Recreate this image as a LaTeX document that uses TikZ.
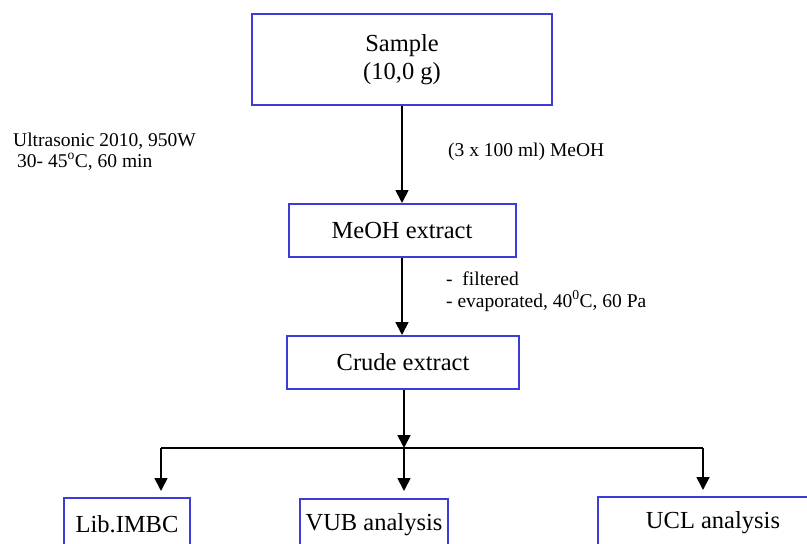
\documentclass[tikz,border=0pt]{standalone}
\usepackage{fontspec}
\setmainfont{Liberation Serif}
\usetikzlibrary{arrows.meta}
\definecolor{boxblue}{RGB}{60,60,215}
\tikzset{
  stepbox/.style={draw=boxblue, line width=2pt, inner sep=0pt, align=center,
    font=\fontsize{24.5}{28}\selectfont},
  arr/.style={line width=1.8pt, -{Triangle[length=13pt,width=13pt]}},
  plain/.style={line width=1.8pt},
  lbl/.style={anchor=base west, inner sep=0pt, align=left}
}
\begin{document}
\begin{tikzpicture}[x=1pt,y=-1pt]
\useasboundingbox (0,0) rectangle (807,544);
\clip (0,0) rectangle (807,544);
% boxes
\node[stepbox, minimum width=300pt, minimum height=91pt] (sample) at (402,59.5) {Sample\\(10,0 g)};
\node[stepbox, minimum width=227pt, minimum height=53pt] (meoh) at (402,230.5) {MeOH extract};
\node[stepbox, minimum width=232pt, minimum height=53pt] (crude) at (403,362.5) {Crude extract};
\node[stepbox, minimum width=126pt, minimum height=52pt, anchor=north] (lib) at (127,497) {Lib.IMBC};
\node[stepbox, minimum width=148pt, minimum height=52pt, anchor=north] (vub) at (374,498) {VUB analysis};
\node[stepbox, minimum width=230pt, minimum height=52pt, anchor=north] (ucl) at (713,496) {UCL analysis};
% junction coordinates
\coordinate (jmid) at (404,448);
\coordinate (jleft) at (161,448);
\coordinate (jright) at (703,448);
\coordinate (tleft) at (161,491);
\coordinate (tmid) at (404,491);
\coordinate (tright) at (703,490);
% connectors
\draw[arr] (sample.south -| meoh.north) -- (meoh.north);
\draw[arr] (meoh.south) -- (meoh.south |- crude.north);
\draw[arr] (crude.south -| jmid) -- (jmid);
\draw[plain] (jleft) -- (jright);
\draw[arr] (jleft) -- (tleft);
\draw[arr] (jmid) -- (tmid);
\draw[arr] (jright) -- (tright);
% labels
\node[lbl, font=\fontsize{19.5}{21}\selectfont] (ultra) at (13,167)
  {Ultrasonic 2010, 950W\\\hspace*{4pt}30- 45\textsuperscript{o}C, 60 min};
\node[lbl, font=\fontsize{19.5}{21}\selectfont] (solv) at (448,156) {(3 x 100 ml) MeOH};
\node[lbl, font=\fontsize{19.5}{22}\selectfont] (filt) at (446,307)
  {-\ \ filtered\\- evaporated, 40\textsuperscript{0}C, 60 Pa};
\end{tikzpicture}
\end{document}
